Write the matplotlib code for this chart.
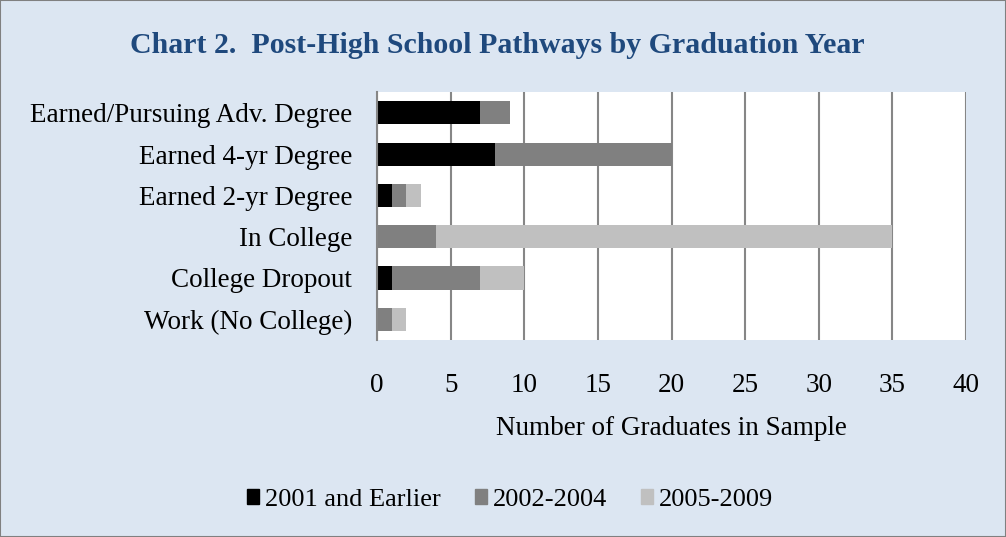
import matplotlib
matplotlib.use("Agg")
import matplotlib.pyplot as plt
import numpy as np

categories = ["Earned/Pursuing Adv. Degree", "Earned 4-yr Degree", "Earned 2-yr Degree",
              "In College", "College Dropout", "Work (No College)"]
series_names = ["2001 and Earlier", "2002-2004", "2005-2009"]
s2001 = [7, 8, 1, 0, 1, 0]
s2002 = [2, 12, 1, 4, 6, 1]
s2005 = [0, 0, 1, 31, 3, 1]
colors = ["#000000", "#808080", "#c0c0c0"]
xticks = [0, 5, 10, 15, 20, 25, 30, 35, 40]

plt.rcParams['font.family'] = ['Liberation Serif', 'DejaVu Serif']
bg = "#dce6f2"
fs = 19.5
fig = plt.figure(figsize=(10.06, 5.37), dpi=100, facecolor=bg)
fig.patches.append(plt.Rectangle((0, 0), 1, 1, transform=fig.transFigure, fill=False,
                                 edgecolor="#808080", linewidth=1.5))
ax = fig.add_axes([0.3748, 0.367, 0.5855, 0.4613])
ax.set_facecolor("white")

y = np.arange(len(categories))
left = np.zeros(len(categories))
for name, vals, c in zip(series_names, [s2001, s2002, s2005], colors):
    ax.barh(y, vals, left=left, height=0.56, color=c, label=name, zorder=3)
    left += np.array(vals)

ax.set_ylim(len(categories) - 0.5, -0.5)
ax.set_xlim(0, 40)
ax.set_xticks(xticks)
ax.set_yticks(y)
ax.set_yticklabels(categories, fontsize=fs)
ax.tick_params(axis='x', labelsize=fs, length=0, pad=24)
ax.tick_params(axis='y', length=0, pad=18)
ax.grid(axis='x', color="#868686", linewidth=1.5, zorder=1)
for s in ["top", "right", "bottom"]:
    ax.spines[s].set_visible(False)
ax.spines["left"].set_color("#868686")
ax.spines["left"].set_linewidth(1.5)
ax.spines["left"].set_zorder(4)

ax.set_xlabel("Number of Graduates in Sample", fontsize=fs, labelpad=13)
fig.text(0.494, 0.915, "Chart 2.  Post-High School Pathways by Graduation Year", ha="center",
         va="center", fontsize=21.5, fontweight="bold", color="#1f497d")

handles = [plt.Rectangle((0, 0), 1, 1, color=c) for c in colors]
fig.legend(handles, series_names, loc="center", bbox_to_anchor=(0.507, 0.069), ncol=3,
           frameon=False, fontsize=19, handlelength=0.45, handleheight=0.45,
           handletextpad=0.23, columnspacing=1.29)

fig.savefig("out.png", dpi=100, facecolor=bg)
